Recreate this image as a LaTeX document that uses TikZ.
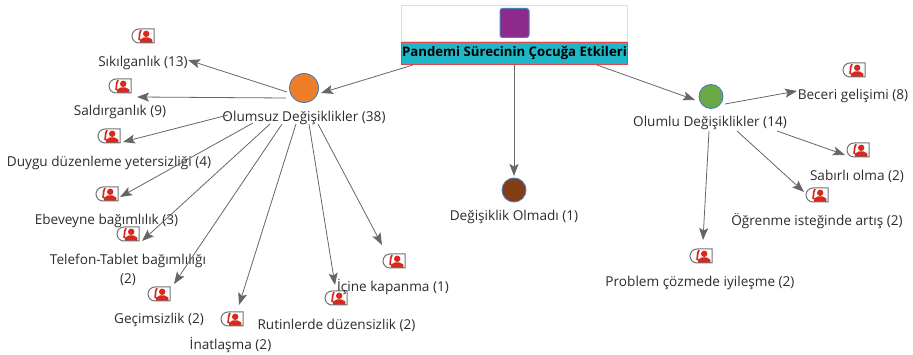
\documentclass[tikz,border=0pt]{standalone}
\usepackage{fontspec}
\setmainfont{Open Sans}
\usetikzlibrary{arrows.meta,shapes.misc}
\definecolor{lbl}{HTML}{2B2B2B}
\definecolor{edgec}{HTML}{666666}
\definecolor{redic}{HTML}{D9291E}
\definecolor{teal1}{HTML}{1FB7C7}
\definecolor{purp}{HTML}{8E2A8B}
\definecolor{orng}{HTML}{ED7D27}
\definecolor{grn}{HTML}{6AA846}
\definecolor{brwn}{HTML}{843C14}
\definecolor{bord}{HTML}{4A7EBB}
\definecolor{redb}{HTML}{E0474C}
\newcommand{\conn}[4]{\draw[link] ([shift={(#2)}]#1.center) -- ([shift={(#4)}]#3.center);}
\tikzset{
  link/.style={draw=edgec,line width=0.8pt,-{Stealth[length=12pt,width=9pt,inset=2.5pt,fill=edgec]}},
  lab/.style={text=lbl,font=\fontsize{13.6}{16}\selectfont,inner sep=0pt,align=center},
  dot/.style={circle,draw=bord,line width=0.9pt,inner sep=0pt},
  iconbox/.style={rounded rectangle,rounded rectangle right arc=none,draw=black!55,line width=1pt,fill=white,
    minimum width=22pt,minimum height=14pt,inner sep=0pt,
    path picture={
      \fill[redic] (path picture bounding box.center) ++(3.2,-2.2) circle (3.2pt);
      \fill[redic] (path picture bounding box.center) ++(-3.2,7) -- ++(0.4,-3.5) -- ++(3.5,-2) -- ++(5,0) -- ++(3.5,2) -- ++(0.4,3.5) -- cycle;
      \draw[redic,line width=1.7pt] (path picture bounding box.center) ++(-2,-6) .. controls ++(-2.5,3) and ++(1.5,3) .. ++(-2.5,9);
    }}
}
\begin{document}
\begin{tikzpicture}[x=1pt,y=-1pt]
\useasboundingbox (0,0) rectangle (913,355);
% root
\node[draw=black!13,line width=1pt,fill=white,minimum width=226pt,minimum height=36pt,inner sep=0pt] (rootbox) at (514.5,24) {};
\node[draw=bord,line width=1pt,fill=purp,rounded corners=2.5pt,minimum size=29pt,inner sep=0pt] (rootsq) at (514.5,23) {};
\node[draw=redb,line width=1pt,fill=teal1,minimum width=226pt,minimum height=21.5pt,inner sep=0pt,font=\bfseries\fontsize{13.2}{15}\selectfont,text=black] (root) at (514.5,53.5) {Pandemi Sürecinin Çocuğa Etkileri};
% hubs
\node[dot,fill=orng,minimum size=29pt] (neg) at (304,88) {};
\node[dot,fill=brwn,minimum size=24pt] (non) at (514,190) {};
\node[dot,fill=grn,minimum size=24pt] (pos) at (711,96.5) {};
\node[lab] (negl) at (304,118) {Olumsuz Değişiklikler (38)};
\node[lab] (nonl) at (514,217) {Değişiklik Olmadı (1)};
\node[lab] (posl) at (710,123) {Olumlu Değişiklikler (14)};
% icons
\node[iconbox] (i1) at (143,36) {};
\node[iconbox] (i2) at (120,86) {};
\node[iconbox] (i3) at (109,136) {};
\node[iconbox] (i4) at (107,194) {};
\node[iconbox] (i5) at (128,234) {};
\node[iconbox] (i6) at (159,294) {};
\node[iconbox] (i7) at (232,319) {};
\node[iconbox] (i8) at (336,298) {};
\node[iconbox] (i9) at (394,261) {};
\node[iconbox] (p1) at (854,70) {};
\node[iconbox] (p2) at (858,150) {};
\node[iconbox] (p3) at (817,195) {};
\node[iconbox] (p4) at (701,256) {};
% labels
\node[lab] (l1) at (143,63) {Sıkılganlık (13)};
\node[lab] (l2) at (120,112) {Saldırganlık (9)};
\node[lab] (l3) at (109,163) {Duygu düzenleme yetersizliği (4)};
\node[lab] (l4) at (106.5,221) {Ebeveyne bağımlılık (3)};
\node[lab] (l5) at (128,270) {Telefon-Tablet bağımlılığı\\[3pt](2)};
\node[lab] (l6) at (159,320) {Geçimsizlik (2)};
\node[lab] (l7) at (230.5,345) {İnatlaşma (2)};
\node[lab] (l8) at (336.5,325) {Rutinlerde düzensizlik (2)};
\node[lab] (l9) at (393,287) {İçine kapanma (1)};
\node[lab] (m1) at (853,96) {Beceri gelişimi (8)};
\node[lab] (m2) at (857,176) {Sabırlı olma (2)};
\node[lab] (m3) at (817,221) {Öğrenme isteğinde artış (2)};
\node[lab] (m4) at (700,283) {Problem çözmede iyileşme (2)};
% connectors
\conn{root}{-101.5,11.5}{neg}{17,5}
\conn{root}{-0.5,11.5}{non}{0,-14}
\conn{root}{82.5,11.5}{pos}{-16,3.5}
\conn{neg}{-17,4}{l1}{45,-3}
\conn{neg}{-18,10}{l2}{17,-15}
\conn{negl}{-76,-3}{i3}{14,6}
\conn{negl}{-51,5}{i4}{13,3}
\conn{negl}{-34,6}{i5}{14,7}
\conn{negl}{-22,6}{i6}{15,-10}
\conn{negl}{-8,6}{i7}{7,-14}
\conn{negl}{5,6}{i8}{-1,-13}
\conn{negl}{14,6}{i9}{-12,-16}
\conn{pos}{14,7.5}{m1}{-56,-5}
\conn{posl}{67,8}{p2}{-13,5}
\conn{posl}{27,8}{p3}{-13,-3}
\conn{posl}{-1,8}{p4}{2,-16}
\end{tikzpicture}
\end{document}
